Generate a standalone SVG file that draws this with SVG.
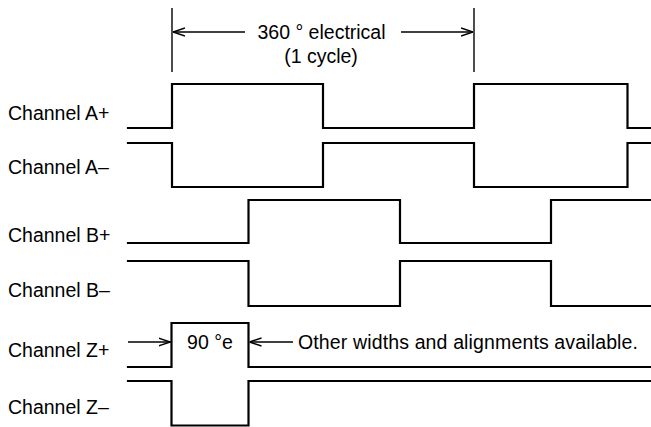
<svg xmlns="http://www.w3.org/2000/svg" width="651" height="427" viewBox="0 0 651 427">
<style>
.sig{fill:none;stroke:#000;stroke-width:2.2;stroke-linejoin:miter;stroke-linecap:square}
.dim{fill:none;stroke:#000;stroke-width:1.4}
.lbl{font-family:"Liberation Sans",Arial,sans-serif;font-size:19.5px;fill:#000}
.mid{text-anchor:middle}
</style>
<defs>
<marker id="ah" viewBox="0 0 12 10" refX="12" refY="5" markerWidth="12" markerHeight="10" markerUnits="userSpaceOnUse" orient="auto">
<path d="M0,1 L12,5 L0,9" fill="none" stroke="#000" stroke-width="1.4"/>
</marker>
</defs>
<rect width="651" height="427" fill="#fff"/>
<g id="labels">
<text class="lbl" x="8" y="120">Channel A+</text>
<text class="lbl" x="8" y="174">Channel A–</text>
<text class="lbl" x="8" y="242">Channel B+</text>
<text class="lbl" x="8" y="297">Channel B–</text>
<text class="lbl" x="8" y="357">Channel Z+</text>
<text class="lbl" x="8" y="414">Channel Z–</text>
</g>
<g id="signals">
<path id="chA_plus" class="sig" d="M128,128 H172 V84 H323 V128 H474 V84 H627.5 V128 H652"/>
<path id="chA_minus" class="sig" d="M128,143 H172 V187 H323 V143 H474 V187 H627.5 V143 H652"/>
<path id="chB_plus" class="sig" d="M128,243 H248.5 V200 H400 V243 H551 V200 H652"/>
<path id="chB_minus" class="sig" d="M128,261 H248.5 V306 H400 V261 H551 V306 H652"/>
<path id="chZ_plus" class="sig" d="M128,367 H171.5 V323 H248.5 V367 H652"/>
<path id="chZ_minus" class="sig" d="M128,381 H171.5 V425.5 H248.5 V381 H652"/>
</g>
<g id="cycle-dimension">
<line class="dim" x1="172" y1="8" x2="172" y2="72"/>
<line class="dim" x1="474" y1="8" x2="474" y2="72"/>
<line class="dim" x1="245" y1="32" x2="173" y2="32" marker-end="url(#ah)"/>
<line class="dim" x1="401" y1="32" x2="473" y2="32" marker-end="url(#ah)"/>
<text class="lbl mid" x="321.5" y="39">360 ° electrical</text>
<text class="lbl mid" x="321" y="63">(1 cycle)</text>
</g>
<g id="z-width">
<line class="dim" x1="128" y1="342" x2="170.5" y2="342" marker-end="url(#ah)"/>
<line class="dim" x1="293" y1="342" x2="249.5" y2="342" marker-end="url(#ah)"/>
<text class="lbl mid" x="210" y="349">90 °e</text>
<text class="lbl" x="298" y="349" textLength="340" lengthAdjust="spacing">Other widths and alignments available.</text>
</g>
</svg>
